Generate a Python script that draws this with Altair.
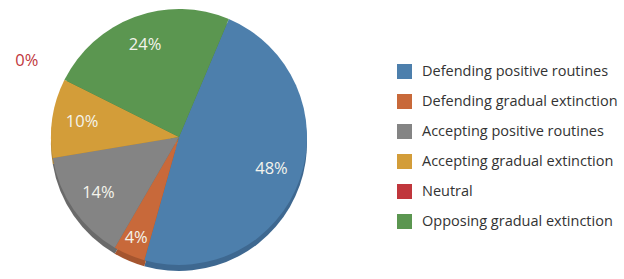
import altair as alt
import pandas as pd

categories = [
    "Defending positive routines",
    "Defending gradual extinction",
    "Accepting positive routines",
    "Accepting gradual extinction",
    "Neutral",
    "Opposing gradual extinction",
]
values = [48, 4, 14, 10, 0, 24]
colors = ["#4d7fac", "#c8693a", "#848484", "#d39d39", "#c0363c", "#5b9650"]
shade = ["#3e6890", "#a5552f", "#6a6a6a", "#ae812e", "#9c2b30", "#4a7b41"]

df = pd.DataFrame({
    "cat": categories,
    "value": values,
    "order": list(range(len(categories))),
    "label": [f"{v}%" for v in values],
})

CX, CY, R = 179, 137, 128
start = 0.40
total = sum(values)
theta_scale = alt.Scale(domain=[0, total], range=[start, start + 6.283185307])

base = alt.Chart(df)

shadow = base.mark_arc(radius=R).encode(
    theta=alt.Theta("value:Q", stack=True, scale=theta_scale),
    order=alt.Order("order:Q"),
    color=alt.Color("cat:N", scale=alt.Scale(domain=categories, range=shade), legend=None),
    x=alt.value(CX),
    y=alt.value(CY + 6),
)

pie = base.mark_arc(radius=R).encode(
    theta=alt.Theta("value:Q", stack=True, scale=theta_scale),
    order=alt.Order("order:Q"),
    color=alt.Color(
        "cat:N",
        scale=alt.Scale(domain=categories, range=colors),
        sort=categories,
        legend=alt.Legend(
            title=None,
            orient="none",
            legendX=397,
            legendY=64,
            symbolType="square",
            symbolSize=225,
            symbolStrokeWidth=0,
            labelFont="Open Sans",
            labelFontSize=14.5,
            labelColor="#333333",
            rowPadding=14,
            labelOffset=10,
            labelLimit=300,
        ),
    ),
    x=alt.value(CX),
    y=alt.value(CY),
)

labels = base.transform_window(
    cum="sum(value)", sort=[alt.SortField("order")]
).transform_calculate(
    mid="datum.cum - datum.value / 2",
    lr="datum.value == 0 ? 170 : (datum.value < 6 ? 110 : 98)",
).mark_text(font="Open Sans", fontSize=16.5).encode(
    theta=alt.Theta("mid:Q", stack=None, scale=theta_scale),
    radius=alt.Radius("lr:Q", scale=None),
    text="label:N",
    color=alt.condition(alt.datum.value == 0, alt.value("#c0363c"), alt.value("#f4f4ec")),
    x=alt.value(CX),
    y=alt.value(CY),
)

chart = alt.layer(shadow, pie, labels).resolve_scale(color="independent").properties(
    width=624,
    height=279,
    padding=0,
    autosize=alt.AutoSizeParams(type="none"),
).configure_view(stroke=None)

chart.save("out.html", embed_options={"renderer": "svg", "actions": False})
